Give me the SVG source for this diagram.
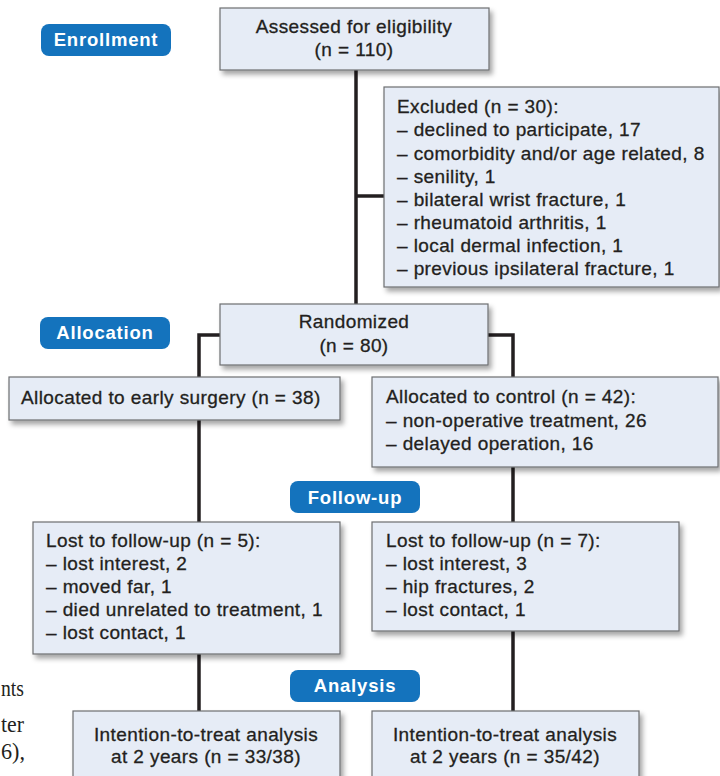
<svg xmlns="http://www.w3.org/2000/svg" width="720" height="776" viewBox="0 0 720 776">
<defs>
<filter id="sh" x="-10%" y="-10%" width="130%" height="140%">
<feDropShadow dx="3" dy="4" stdDeviation="2.5" flood-color="#000" flood-opacity="0.35"/>
</filter>
<style>
.box{fill:#E6ECF6;stroke:#6D6E71;stroke-width:1.2;filter:url(#sh)}
.t{font-family:"Liberation Sans",Arial,sans-serif;font-size:19px;letter-spacing:0.4px;fill:#231F20;stroke:#231F20;stroke-width:0.3}
.c{text-anchor:middle}
.pill{fill:#1473BD}
.pt{font-family:"Liberation Sans",Arial,sans-serif;font-size:18.5px;font-weight:bold;letter-spacing:0.8px;fill:#fff;text-anchor:middle}
.ln{stroke:#231F20;stroke-width:3.5;fill:none}
.serif{font-family:"Liberation Serif","Times New Roman",serif;font-size:23px;fill:#231F20}
</style>
</defs>
<rect width="720" height="776" fill="#fff"/>

<g id="connectors">
<path class="ln" d="M356 70 V304"/>
<path class="ln" d="M356 196 H384"/>
<path class="ln" d="M220 335 H199 V377"/>
<path class="ln" d="M488 335 H513 V377"/>
<path class="ln" d="M199 420 V522"/>
<path class="ln" d="M513 467 V522"/>
<path class="ln" d="M199 654 V711"/>
<path class="ln" d="M513 631 V711"/>
</g>

<g id="stage-enrollment">
<rect class="pill" x="41" y="24" width="130" height="32" rx="8"/>
<text class="pt" x="106" y="46">Enrollment</text>
</g>
<g id="stage-allocation">
<rect class="pill" x="40" y="317" width="130" height="32" rx="8"/>
<text class="pt" x="105" y="338.5">Allocation</text>
</g>
<g id="stage-followup">
<rect class="pill" x="290" y="481" width="130" height="32" rx="8"/>
<text class="pt" x="355" y="503.5">Follow-up</text>
</g>
<g id="stage-analysis">
<rect class="pill" x="290" y="670" width="130" height="32" rx="8"/>
<text class="pt" x="355" y="692">Analysis</text>
</g>

<g id="assessed">
<rect class="box" x="220" y="8" width="269" height="62"/>
<text class="t c" x="354" y="33">Assessed for eligibility</text>
<text class="t c" x="354" y="56">(n = 110)</text>
</g>

<g id="excluded">
<rect class="box" x="384" y="87" width="335" height="200"/>
<text class="t" x="397" y="113.3">Excluded (n = 30):</text>
<text class="t" x="397" y="136.4">– declined to participate, 17</text>
<text class="t" x="397" y="159.5">– comorbidity and/or age related, 8</text>
<text class="t" x="397" y="182.6">– senility, 1</text>
<text class="t" x="397" y="205.7">– bilateral wrist fracture, 1</text>
<text class="t" x="397" y="228.8">– rheumatoid arthritis, 1</text>
<text class="t" x="397" y="251.9">– local dermal infection, 1</text>
<text class="t" x="397" y="275">– previous ipsilateral fracture, 1</text>
</g>

<g id="randomized">
<rect class="box" x="220" y="304" width="268" height="61"/>
<text class="t c" x="354" y="328.3">Randomized</text>
<text class="t c" x="354" y="351.5">(n = 80)</text>
</g>

<g id="early-surgery">
<rect class="box" x="9" y="377" width="331" height="43"/>
<text class="t" x="21" y="404.3">Allocated to early surgery (n = 38)</text>
</g>

<g id="control">
<rect class="box" x="372" y="377" width="346" height="90"/>
<text class="t" x="386" y="403.3">Allocated to control (n = 42):</text>
<text class="t" x="386" y="426.6">– non-operative treatment, 26</text>
<text class="t" x="386" y="449.9">– delayed operation, 16</text>
</g>

<g id="lost-left">
<rect class="box" x="33" y="522" width="307" height="132"/>
<text class="t" x="46" y="547.3">Lost to follow-up (n = 5):</text>
<text class="t" x="46" y="570.3">– lost interest, 2</text>
<text class="t" x="46" y="593.3">– moved far, 1</text>
<text class="t" x="46" y="616.3">– died unrelated to treatment, 1</text>
<text class="t" x="46" y="639.3">– lost contact, 1</text>
</g>

<g id="lost-right">
<rect class="box" x="372" y="522" width="307" height="109"/>
<text class="t" x="386" y="546.7">Lost to follow-up (n = 7):</text>
<text class="t" x="386" y="569.7">– lost interest, 3</text>
<text class="t" x="386" y="592.7">– hip fractures, 2</text>
<text class="t" x="386" y="615.7">– lost contact, 1</text>
</g>

<g id="itt-left">
<rect class="box" x="73" y="711" width="267" height="80"/>
<text class="t c" x="206" y="740.7">Intention-to-treat analysis</text>
<text class="t c" x="206" y="762.7">at 2 years (n = 33/38)</text>
</g>

<g id="itt-right">
<rect class="box" x="372" y="711" width="267" height="80"/>
<text class="t c" x="505" y="740.7">Intention-to-treat analysis</text>
<text class="t c" x="505" y="762.7">at 2 years (n = 35/42)</text>
</g>

<g id="page-text">
<text class="serif" x="1" y="696" textLength="23" lengthAdjust="spacingAndGlyphs">nts</text>
<text class="serif" x="1" y="731.5" textLength="23" lengthAdjust="spacingAndGlyphs">ter</text>
<text class="serif" x="1" y="759" textLength="24" lengthAdjust="spacingAndGlyphs">6),</text>
</g>
</svg>
